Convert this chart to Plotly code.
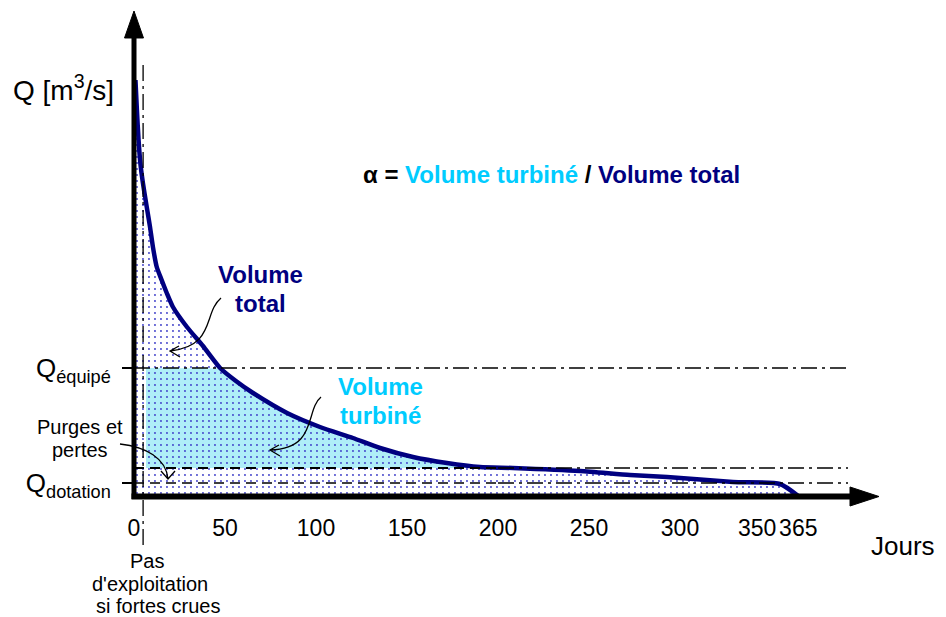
import numpy as np
import plotly.graph_objects as go

# ---------------- data ----------------
days = [0.8, 1.6, 2.5, 3.6, 4.9, 7.0, 8.8, 10.4, 12.5, 15.2, 18.0, 21.4, 29.1, 37.9,
        47.3, 56.0, 65.4, 84.1, 102.2, 120.3, 135.2, 153.3, 172.0, 190.1, 208.2, 245.1,
        272.5, 292.9, 329.1, 354.9, 365]
debit = [41.6, 38.6, 35.6, 33.1, 31.3, 28.9, 26.9, 24.9, 22.9, 21.6, 20.3, 18.9, 16.9, 15.0,
         12.8, 11.5, 10.3, 8.3, 6.9, 5.8, 4.8, 3.9, 3.3, 2.9, 2.8, 2.5,
         2.1, 1.9, 1.4, 1.2, 0]
Q_equipe = 12.8
Q_purges = 2.8
Q_dotation = 1.3
jour_crues = 5.0
jour_debut_turbinage = 6.6
x_tickvals = [0, 50, 100, 150, 200, 250, 300, 365]
x_ticktext = ["0", "50", "100", "150", "200", "250", "300", "365"]
y_tickvals = [Q_dotation, Q_equipe]
y_ticktext = ["Q<sub>dotation</sub>", "Q<sub>équipé</sub>"]

NAVY = "#000080"
CYAN_TXT = "#00CCFF"
CYAN_FILL = "rgb(175,238,248)"
FONT = "Liberation Sans, Arial, sans-serif"

# plot-area geometry (pixels)
L, R, T, B = 134, 880, 10, 496
W, H = 946, 617
PXDAY = 1.82
PXQ = 10.0
x_max = (R - L) / PXDAY
y_max = (B - T) / PXQ


def PX(X):
    return (X - L) / (R - L)


def PY(Y):
    return (B - Y) / (B - T)


# cyan region (turbined volume) computed from the curve
xs = np.linspace(jour_debut_turbinage, 365, 2000)
curve = np.interp(xs, days, debit)
mask = curve >= Q_purges
x_end = xs[mask][-1]
xs_c = xs[xs <= x_end]
top = np.minimum(np.interp(xs_c, days, debit), Q_equipe)
cx = np.concatenate([[jour_debut_turbinage], xs_c, [x_end, jour_debut_turbinage]])
cy = np.concatenate([[Q_purges], top, [Q_purges, Q_purges]])

fig = go.Figure()
fig.add_trace(go.Scatter(x=cx, y=cy, mode="lines", fill="toself", fillcolor=CYAN_FILL,
                         line=dict(width=0), hoverinfo="skip", showlegend=False))
fig.add_trace(go.Scatter(x=days, y=debit, mode="lines", fill="tozeroy",
                         fillcolor="rgba(0,0,0,0)",
                         fillpattern=dict(shape=".", fgcolor="rgb(60,60,200)",
                                          bgcolor="rgba(0,0,0,0)", size=6, solidity=0.08,
                                          fillmode="replace"),
                         line=dict(color=NAVY, width=4.5, shape="spline", smoothing=0.6),
                         showlegend=False, cliponaxis=False))

shapes = []
x_line_end = (848 - L) / PXDAY
DASHDOT = "16px,5px,3px,5px"
# horizontal reference lines
shapes.append(dict(type="line", xref="x", yref="y", x0=0, x1=x_line_end, y0=Q_equipe, y1=Q_equipe,
                   line=dict(color="black", width=1.3, dash=DASHDOT), layer="above"))
shapes.append(dict(type="line", xref="x", yref="y", x0=0, x1=200, y0=Q_purges, y1=Q_purges,
                   line=dict(color="black", width=2.2, dash="10px,6px"), layer="above"))
shapes.append(dict(type="line", xref="x", yref="y", x0=200, x1=x_line_end, y0=Q_purges, y1=Q_purges,
                   line=dict(color="black", width=1.5, dash=DASHDOT), layer="above"))
shapes.append(dict(type="line", xref="x", yref="y", x0=0, x1=200, y0=Q_dotation, y1=Q_dotation,
                   line=dict(color="black", width=1.3, dash="10px,6px"), layer="above"))
shapes.append(dict(type="line", xref="x", yref="y", x0=200, x1=x_line_end, y0=Q_dotation, y1=Q_dotation,
                   line=dict(color="black", width=1.3, dash=DASHDOT), layer="above"))
# vertical line "pas d'exploitation"
vx = PX(L + jour_crues * PXDAY)
shapes.append(dict(type="line", xref="paper", yref="paper", x0=vx, x1=vx, y0=PY(65), y1=PY(545),
                   line=dict(color="black", width=1.3, dash=DASHDOT), layer="above"))
# axes
shapes.append(dict(type="line", xref="paper", yref="paper", x0=PX(134), x1=PX(134), y0=PY(499), y1=PY(36),
                   line=dict(color="black", width=5), layer="above"))
shapes.append(dict(type="line", xref="paper", yref="paper", x0=PX(131.5), x1=PX(852), y0=PY(496.5), y1=PY(496.5),
                   line=dict(color="black", width=6), layer="above"))


def path(pts, closed=False):
    s = "M " + " L ".join(f"{PX(a):.5f},{PY(b):.5f}" for a, b in pts)
    return s + (" Z" if closed else "")


shapes.append(dict(type="path", xref="paper", yref="paper", path=path([(134, 11), (124.5, 38), (143.5, 38)], True),
                   fillcolor="black", line=dict(color="black", width=1), layer="above"))
shapes.append(dict(type="path", xref="paper", yref="paper", path=path([(879, 496.5), (850, 487), (850, 506)], True),
                   fillcolor="black", line=dict(color="black", width=1), layer="above"))


def curly(p0, c1, c2, p3, a1, a2):
    f = lambda p: f"{PX(p[0]):.5f},{PY(p[1]):.5f}"
    s = f"M {f(p0)} C {f(c1)} {f(c2)} {f(p3)} M {f(a1)} L {f(p3)} L {f(a2)}"
    return dict(type="path", xref="paper", yref="paper", path=s,
                line=dict(color="black", width=1.3), layer="above")


shapes.append(curly((221, 298), (203, 313), (216, 346), (170, 351), (179, 346), (180, 357)))
shapes.append(curly((321, 397), (305, 410), (318, 449), (270, 450), (279, 445), (280, 456)))
shapes.append(curly((120, 444), (146, 447), (166, 458), (168, 479), (161, 471), (175, 471)))

ann = []


def txt(x, y, text, size, color="black", bold=False, xanchor="center"):
    t = f"<b>{text}</b>" if bold else text
    ann.append(dict(xref="paper", yref="paper", x=PX(x), y=PY(y), text=t, showarrow=False,
                    xanchor=xanchor, yanchor="middle", align="center",
                    font=dict(family=FONT, size=size, color=color)))


txt(63, 88, "Q [m<sup>3</sup>/s]", 28)
txt(903, 546, "Jours", 26)
txt(260, 274, "Volume", 24, NAVY, True)
txt(260, 303, "total", 24, NAVY, True)
txt(380, 386, "Volume", 24, CYAN_TXT, True)
txt(380, 415, "turbiné", 24, CYAN_TXT, True)
txt(80, 427, "Purges et", 20)
txt(80, 450, "pertes", 20)
txt(147, 561, "Pas", 20)
txt(150, 584, "d'exploitation", 20)
txt(158, 606, "si fortes crues", 20)
txt(551, 175, "α = <span style='color:" + CYAN_TXT + "'>Volume turbiné</span> / "
    "<span style='color:" + NAVY + "'>Volume total</span>", 24, "black", True)
# 350 label placed beside 365 as in the original
ann.append(dict(xref="x", yref="paper", x=350, y=PY(528), xshift=-14, text="350", showarrow=False,
                xanchor="center", yanchor="middle", font=dict(family=FONT, size=23, color="black")))

fig.update_layout(
    width=W, height=H, autosize=False,
    margin=dict(l=L, r=W - R, t=T, b=H - B, pad=0),
    paper_bgcolor="white", plot_bgcolor="white",
    shapes=shapes, annotations=ann, showlegend=False,
    font=dict(family=FONT, color="black"),
    xaxis=dict(range=[0, x_max], showgrid=False, zeroline=False, showline=False,
               tickvals=x_tickvals, ticktext=x_ticktext, ticks="", tickangle=0,
               ticklabelstandoff=16, tickfont=dict(family=FONT, size=23)),
    yaxis=dict(range=[0, y_max], showgrid=False, zeroline=False, showline=False,
               tickvals=y_tickvals, ticktext=y_ticktext, ticks="outside", ticklen=11,
               tickwidth=1.5, tickcolor="black", ticklabelstandoff=6,
               tickfont=dict(family=FONT, size=26)),
)

fig.write_html("out.html", config={"displayModeBar": False},
               post_script="document.body.style.margin='0px';document.body.style.overflow='hidden';")
